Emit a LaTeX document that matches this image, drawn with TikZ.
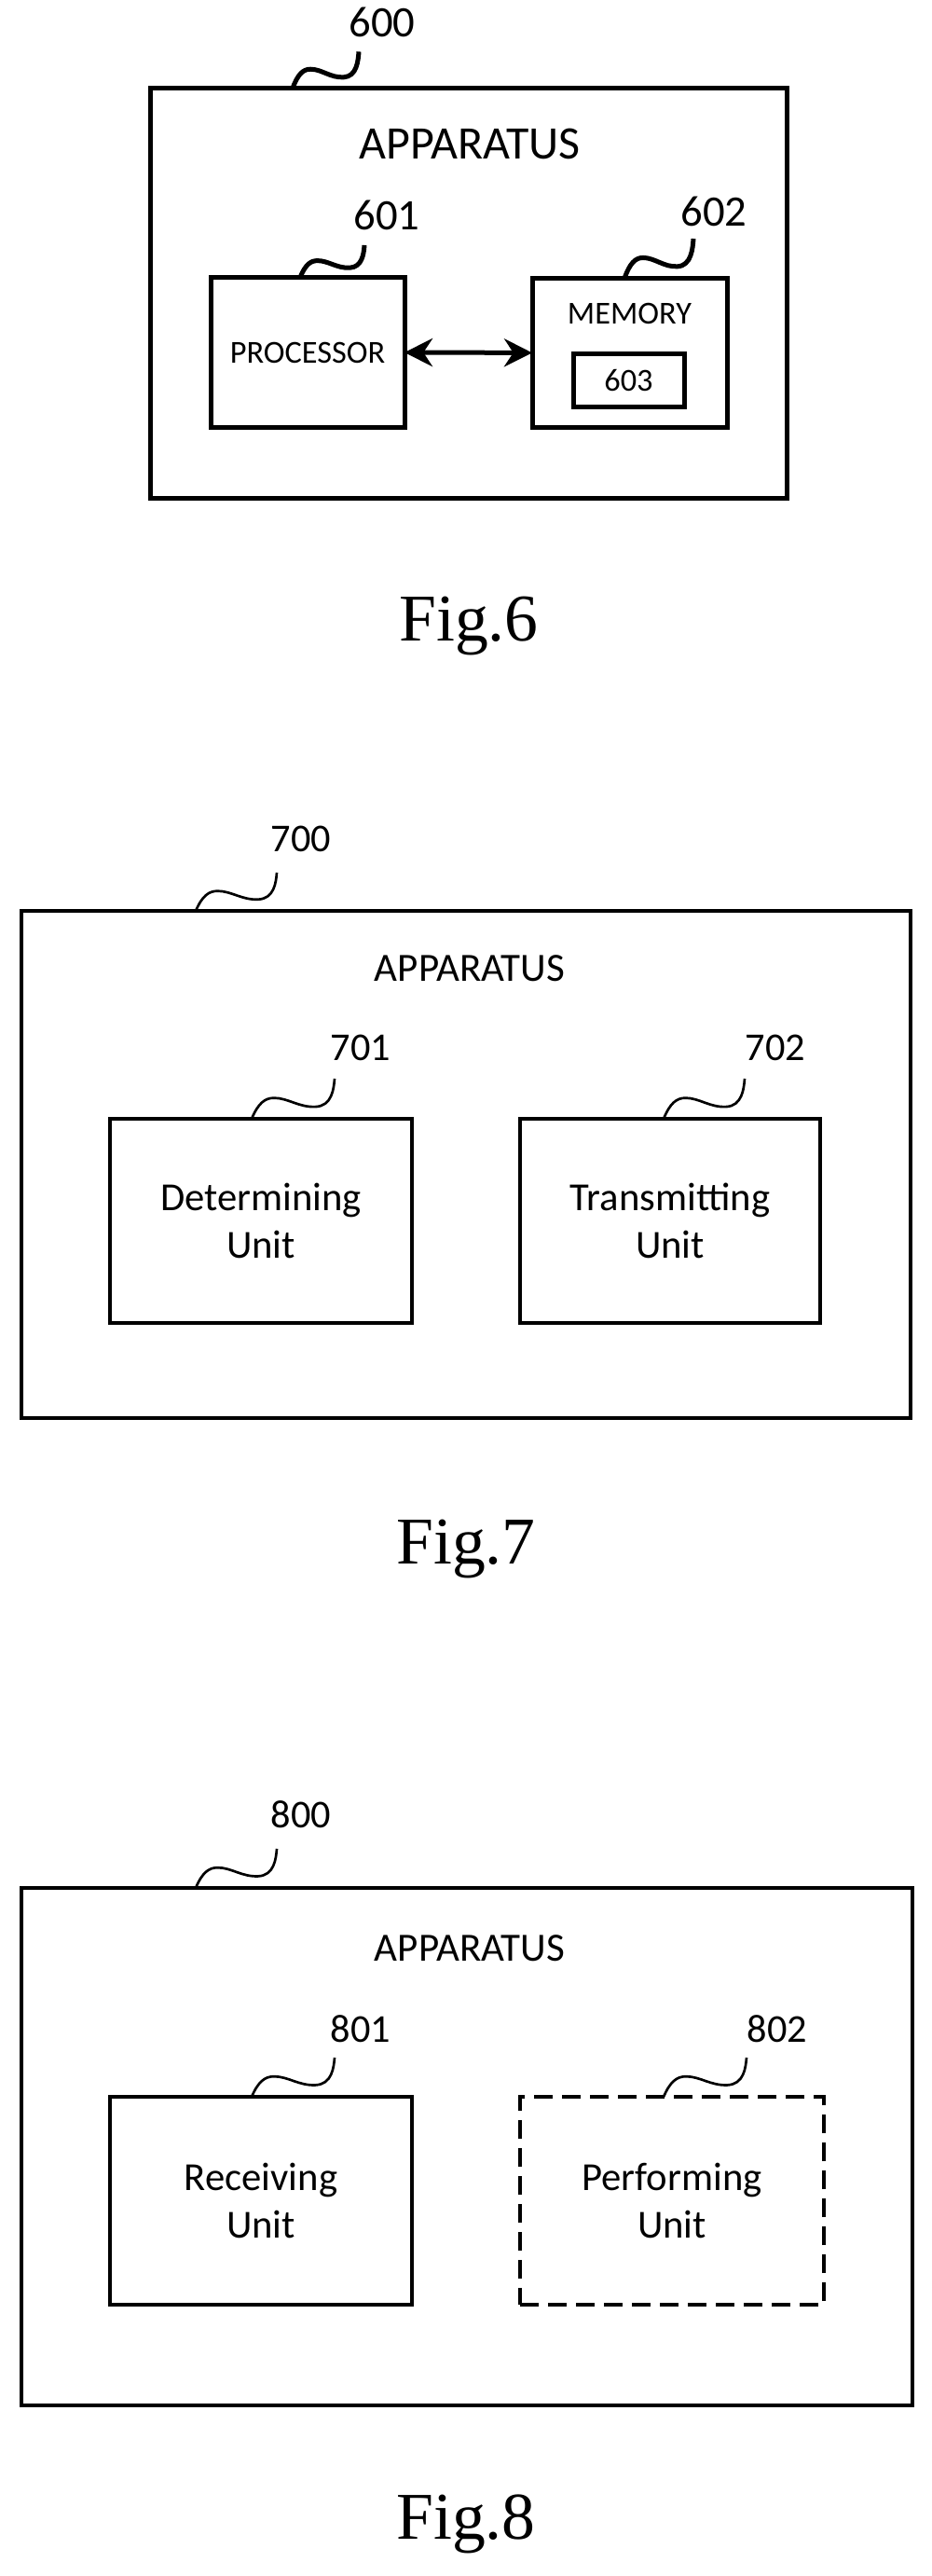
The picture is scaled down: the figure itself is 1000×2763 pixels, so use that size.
\documentclass[tikz,border=0pt]{standalone}
\usepackage{fontspec}
\setmainfont{Carlito}
\newfontfamily\figfont{Liberation Serif}
\usetikzlibrary{arrows.meta,calc}

\newcommand\leadline[2]{% wavy reference line from #1 (box) to #2 (label)
  \draw[lead] let \p1=(#1), \p2=(#2), \n1={\x2-\x1}, \n2={\y2-\y1} in
    (\p1) .. controls ({\x1+0.08*\n1},{\y1+0.39*\n2}) and ({\x1+0.16*\n1},{\y1+0.52*\n2})
    .. ({\x1+0.27*\n1},{\y1+0.52*\n2})
    .. controls ({\x1+0.44*\n1},{\y1+0.52*\n2}) and ({\x1+0.57*\n1},{\y1+0.28*\n2})
    .. ({\x1+0.77*\n1},{\y1+0.30*\n2})
    .. controls ({\x1+0.97*\n1},{\y1+0.32*\n2}) and ({\x1+0.99*\n1},{\y1+0.75*\n2})
    .. (\p2);}

\begin{document}
\begin{tikzpicture}[x=0.3pt, y=-0.3pt,
    box/.style = {draw, rectangle, inner sep=0pt, outer sep=0pt},
    bigbox/.style = {box, line width=1.5pt},
    unit/.style = {box, line width=1pt, align=center, font=\fontsize{12.8}{15.5}\selectfont},
    title/.style = {font=\fontsize{12.9}{15}\selectfont},
    refnum/.style = {font=\fontsize{12.7}{15}\selectfont, anchor=south},
    caption/.style = {font=\figfont\fontsize{21.5}{26}\selectfont},
    lead/.style = {line width=0.8pt}
  ]
  \useasboundingbox (0,0) rectangle (1000,2763);

  % Fig.6
  \node[bigbox, minimum width=204.9pt, minimum height=131.9pt] (app6) at (502.5,314.5) {};
  \node[font=\fontsize{15}{18}\selectfont] (t6) at (504,154.6) {APPARATUS};
  \node[bigbox, minimum width=62.4pt, minimum height=48.2pt, font=\fontsize{10.3}{12}\selectfont] (proc) at (330,378) {PROCESSOR};
  \node[bigbox, minimum width=62.7pt, minimum height=47.9pt] (mem) at (675.5,378.4) {};
  \node[font=\fontsize{10.3}{12}\selectfont] (memt) at (675.5,336.9) {MEMORY};
  \node[bigbox, minimum width=35.7pt, minimum height=17pt, font=\fontsize{10.3}{12}\selectfont] (m603) at (674.5,407.7) {603};
  \draw[line width=1.5pt, {Stealth[length=9pt,width=9pt]}-{Stealth[length=9pt,width=9pt]}] (proc.east) -- (mem.west);
  \node[font=\fontsize{14}{17}\selectfont, anchor=south] (r600) at (410,52) {600};
  \node[font=\fontsize{14}{17}\selectfont, anchor=south] (r601) at (415,259) {601};
  \node[font=\fontsize{14}{17}\selectfont, anchor=south] (r602) at (766,255) {602};
  \coordinate (s600) at (314,94.6);
  \coordinate (s601) at (322,297.6);
  \coordinate (s602) at (670,298.6);
  \coordinate (e600) at (385,55.4);
  \coordinate (e601) at (391,263);
  \coordinate (e602) at (744,256);
  \begin{scope}[lead/.append style={line width=1.5pt}]
    \leadline{s600}{e600}
    \leadline{s601}{e601}
    \leadline{s602}{e602}
  \end{scope}
  \node[caption] (f6) at (503,671.5) {Fig.6};

  % Fig.7
  \node[box, line width=1pt, minimum width=286.2pt, minimum height=163.2pt] (app7) at (500,1249) {};
  \node[title] (t7) at (504,1039) {APPARATUS};
  \node[unit, minimum width=97.2pt, minimum height=65.7pt] (det) at (280,1309.5) {Determining\\Unit};
  \node[unit, minimum width=96.6pt, minimum height=65.7pt] (tx) at (719,1309.5) {Transmitting\\Unit};
  \node[refnum] (r700) at (323,926) {700};
  \node[refnum] (r701) at (387,1150) {701};
  \node[refnum] (r702) at (832,1150) {702};
  \coordinate (s700) at (210,977);
  \coordinate (s701) at (270,1200);
  \coordinate (s702) at (712,1200);
  \coordinate (e700) at (297,936);
  \coordinate (e701) at (359,1157);
  \coordinate (e702) at (799,1157);
  \leadline{s700}{e700}
  \leadline{s701}{e701}
  \leadline{s702}{e702}
  \node[caption] (f7) at (500,1661) {Fig.7};

  % Fig.8
  \node[box, line width=1pt, minimum width=286.8pt, minimum height=166.5pt] (app8) at (501,2302.5) {};
  \node[title] (t8) at (504,2090) {APPARATUS};
  \node[unit, minimum width=97.2pt, minimum height=66.9pt] (rcv) at (280,2360.5) {Receiving\\Unit};
  \node[unit, dashed, dash pattern=on 6pt off 3pt, minimum width=97.8pt, minimum height=66.9pt] (perf) at (721,2360.5) {Performing\\Unit};
  \node[refnum] (r800) at (323,1973) {800};
  \node[refnum] (r801) at (387,2203) {801};
  \node[refnum] (r802) at (834,2203) {802};
  \coordinate (s800) at (210,2025);
  \coordinate (s801) at (270,2249);
  \coordinate (s802) at (712,2249);
  \coordinate (e800) at (297,1983);
  \coordinate (e801) at (359,2207);
  \coordinate (e802) at (801,2207);
  \leadline{s800}{e800}
  \leadline{s801}{e801}
  \leadline{s802}{e802}
  \node[caption] (f8) at (500,2707) {Fig.8};
\end{tikzpicture}
\end{document}
